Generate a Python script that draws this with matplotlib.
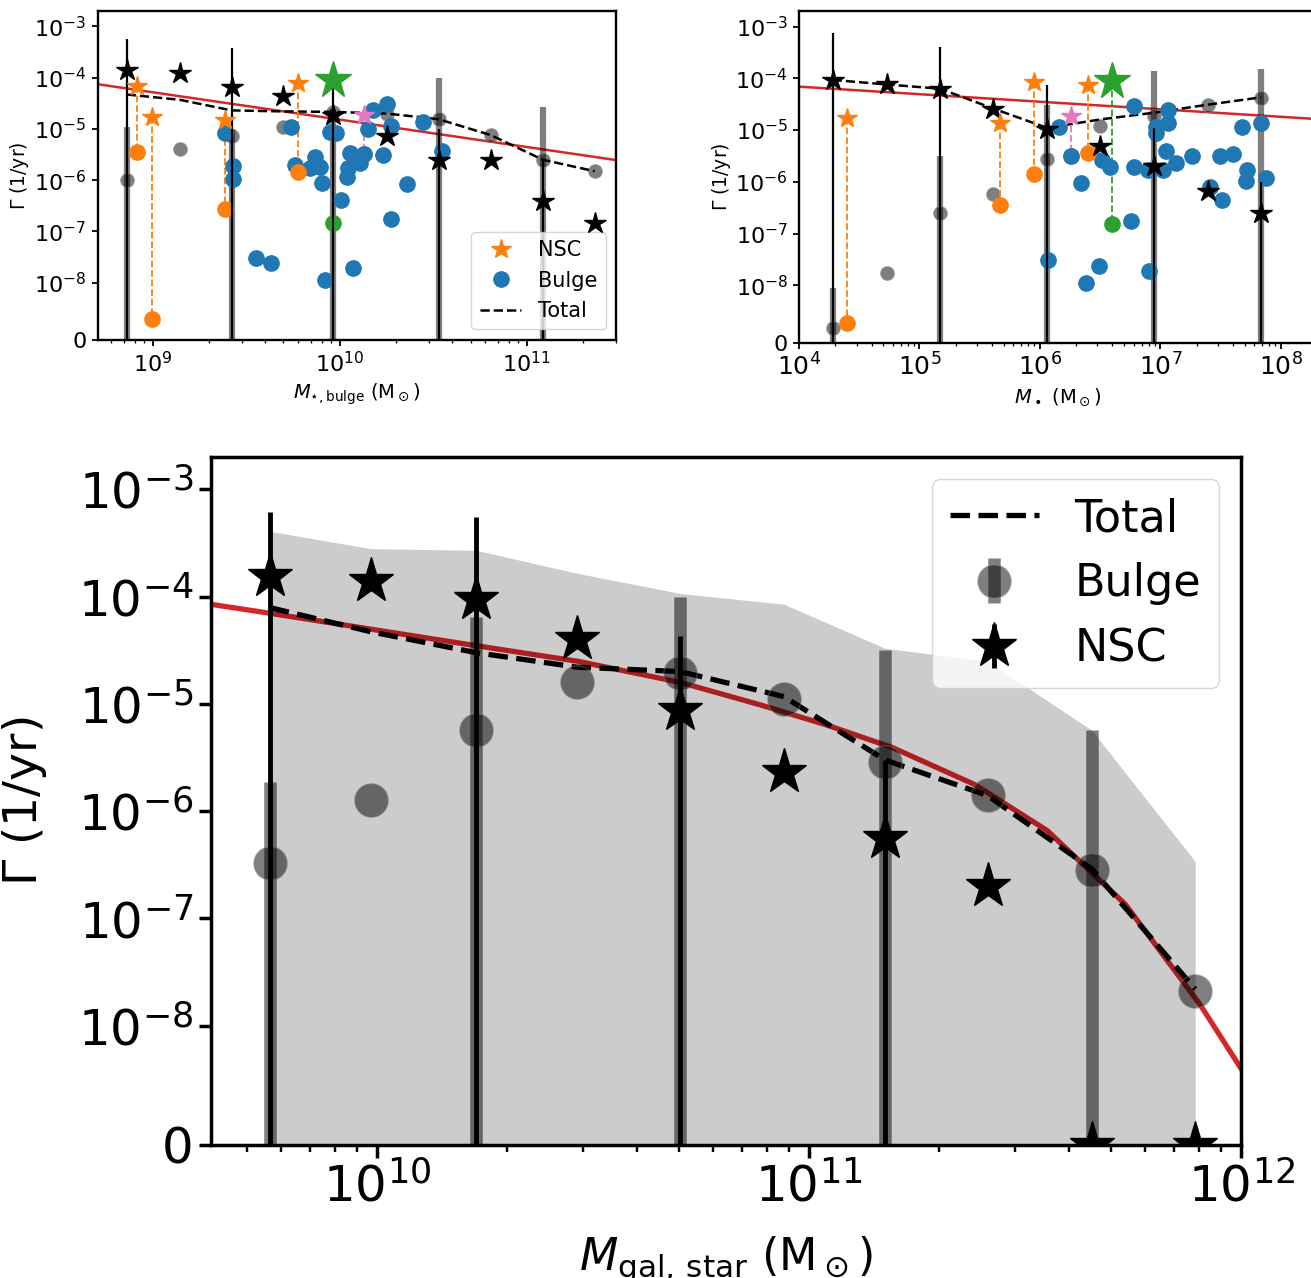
import numpy as np
import matplotlib
matplotlib.use('Agg')
import matplotlib.pyplot as plt
from matplotlib.ticker import NullLocator

plt.rcParams.update({'font.family': 'DejaVu Sans', 'mathtext.fontset': 'dejavusans'})

# ---------------- top-left panel: rate vs bulge mass ----------------
mbulge_bins = [7.26e8, 1.4e9, 2.64e9, 4.99e9, 9.2e9, 1.78e10, 3.37e10, 6.4e10, 1.22e11, 2.3e11]
tl_bulge = [1.03e-6, 4.0e-6, 7.2e-6, 1.1e-5, 2.15e-5, 2.0e-5, 1.55e-5, 7.6e-6, 2.5e-6, 1.5e-6]
tl_nsc = [1.44e-4, 1.24e-4, 6.5e-5, 4.4e-5, 1.87e-5, 7.2e-6, 2.5e-6, 2.5e-6, 4.0e-7, 1.48e-7]
tl_total = [4.7e-5, 3.7e-5, 2.3e-5, 2.2e-5, 2.15e-5, 2.0e-5, 1.55e-5, 7.6e-6, 2.5e-6, 1.5e-6]
# upper ends of the error bars, drawn on every second bin
tl_nsc_up = [5.8e-4, 3.8e-4, 1.1e-4, 1.0e-5, 2.5e-6]
tl_bulge_up = [1.1e-5, 1.0e-5, 2.5e-5, 1.0e-4, 2.7e-5]
tl_fit_x = [5.08e8, 3.0e11]
tl_fit_y = [7.46e-5, 2.47e-6]
# individual galaxies
tl_blue_x = [2.44e9, 2.68e9, 2.68e9, 5.5e9, 5.77e9, 7.4e9, 8.0e9, 7.85e9, 6.9e9, 8.9e9,
             9.6e9, 1.51e10, 1.78e10, 1.42e10, 1.87e10, 1.71e10, 1.34e10, 1.135e10, 1.285e10, 1.11e10,
             1.09e10, 2.28e10, 2.78e10, 3.5e10, 1.02e10, 1.87e10, 1.18e10, 8.3e9, 3.57e9, 4.3e9]
tl_blue_y = [8.2e-6, 1.9e-6, 1.05e-6, 1.1e-5, 2.0e-6, 2.9e-6, 8.9e-7, 1.8e-6, 1.7e-6, 8.7e-6,
             8.4e-6, 2.3e-5, 3.0e-5, 1.02e-5, 1.13e-5, 3.1e-6, 3.3e-6, 3.4e-6, 2.2e-6, 1.7e-6,
             1.17e-6, 8.3e-7, 1.34e-5, 3.7e-6, 4.2e-7, 1.74e-7, 1.9e-8, 1.13e-8, 3.1e-8, 2.45e-8]
tl_orange_x = [8.2e8, 9.9e8, 2.44e9, 5.96e9]
tl_orange_star = [6.8e-5, 1.7e-5, 1.5e-5, 7.9e-5]
tl_orange_circ = [3.5e-6, 3.6e-9, 2.8e-7, 1.42e-6]
tl_green = (9.25e9, 8.9e-5, 1.48e-7)
tl_pink = (1.34e10, 1.87e-5, 3.3e-6)

# ---------------- top-right panel: rate vs black hole mass ----------------
mbh_bins = [1.9e4, 5.35e4, 1.48e5, 4.1e5, 1.15e6, 3.15e6, 8.8e6, 2.5e7, 6.9e7]
tr_bulge = [2.5e-9, 1.73e-8, 2.45e-7, 5.8e-7, 2.75e-6, 1.19e-5, 1.85e-5, 3.1e-5, 4.2e-5]
tr_nsc = [9.3e-5, 7.6e-5, 6.3e-5, 2.6e-5, 1.05e-5, 4.9e-6, 2.0e-6, 6.5e-7, 2.45e-7]
tr_total = [9.3e-5, 7.6e-5, 6.3e-5, 2.6e-5, 1.1e-5, 1.6e-5, 2.16e-5, 3.1e-5, 4.3e-5]
tr_nsc_up = [7.4e-4, 4.1e-4, 7.3e-5, 1.1e-5, 1.0e-6]
tr_bulge_up = [9.5e-9, 3.1e-6, 3.0e-5, 1.4e-4, 1.5e-4]
tr_fit_x = [1e4, 2e8]
tr_fit_y = [6.9e-5, 1.63e-5]
tr_blue_x = [1.445e6, 1.8e6, 2.18e6, 3.25e6, 3.8e6, 6.07e6, 6.03e6, 7.92e6, 9.29e6, 9.29e6,
             1.16e7, 1.16e7, 1.11e7, 1.05e7, 1.36e7, 1.84e7, 3.12e7, 4.02e7, 4.81e7, 6.82e7,
             5.25e7, 5.19e7, 7.59e7, 2.57e7, 3.28e7, 5.69e6, 1.17e6, 3.09e6, 2.4e6, 8.04e6]
tr_blue_y = [1.17e-5, 3.1e-6, 9.4e-7, 2.6e-6, 1.9e-6, 2.9e-5, 1.9e-6, 1.7e-6, 1.17e-5, 8.8e-6,
             2.4e-5, 1.34e-5, 3.9e-6, 1.66e-6, 2.3e-6, 3.1e-6, 3.1e-6, 3.5e-6, 1.13e-5, 1.37e-5,
             1.7e-6, 1.04e-6, 1.2e-6, 8.1e-7, 4.4e-7, 1.77e-7, 3.06e-8, 2.4e-8, 1.13e-8, 1.87e-8]
tr_orange_x = [2.5e4, 4.7e5, 8.9e5, 2.5e6]
tr_orange_star = [1.72e-5, 1.38e-5, 8.6e-5, 7.3e-5]
tr_orange_circ = [3.5e-9, 3.5e-7, 1.43e-6, 3.6e-6]
tr_green = (4.0e6, 8.9e-5, 1.5e-7)
tr_pink = (1.8e6, 1.9e-5, 3.1e-6)

# ---------------- bottom panel: rate vs galaxy stellar mass ----------------
mgal_bins = [5.66e9, 9.7e9, 1.70e10, 2.91e10, 5.04e10, 8.75e10, 1.50e11, 2.59e11, 4.51e11, 7.83e11]
b_bulge = [3.3e-7, 1.28e-6, 5.7e-6, 1.6e-5, 1.96e-5, 1.1e-5, 2.9e-6, 1.4e-6, 2.85e-7, 2.1e-8]
b_nsc = [1.55e-4, 1.4e-4, 9.5e-5, 4.0e-5, 8.7e-6, 2.3e-6, 5.6e-7, 2.0e-7, 0, 0]
b_total = [7.9e-5, 4.7e-5, 3.0e-5, 2.2e-5, 2.0e-5, 1.17e-5, 3.0e-6, 1.4e-6, 2.9e-7, 2.2e-8]
b_nsc_up = [6.1e-4, 5.5e-4, 4.3e-5, 3.0e-6, 0]
b_bulge_up = [1.87e-6, 6.5e-5, 1.0e-4, 3.2e-5, 5.7e-6]
b_band_up = [4.06e-4, 2.8e-4, 2.7e-4, 1.65e-4, 1.07e-4, 8.5e-5, 3.3e-5, 2.5e-5, 5.7e-6, 3.4e-7]
b_fit_x = [4.16e9, 5.69e9, 1.68e10, 2.93e10, 5.06e10, 7.67e10, 1.09e11, 1.56e11, 2.42e11,
           3.56e11, 5.40e11, 8.04e11, 1e12]
b_fit_y = [8.45e-5, 6.97e-5, 3.51e-5, 2.49e-5, 1.58e-5, 9.86e-6, 6.43e-6, 3.92e-6, 1.77e-6,
           6.59e-7, 1.35e-7, 1.57e-8, 6.4e-9]

yticks = [0, 1e-8, 1e-7, 1e-6, 1e-5, 1e-4, 1e-3]
yticklabels = ['0'] + [r'$10^{%d}$' % k for k in range(-8, -2)]


def err_arrays(vals, ups):
    # lower error reaches zero, upper error only on even bins
    vals = np.array(vals, dtype=float)
    upper = np.zeros_like(vals)
    upper[::2] = np.array(ups) - vals[::2]
    upper = np.clip(upper, 0, None)
    return [vals, upper]


def setup(ax, tick_size, spine_w, maj_len, maj_w):
    ax.set_xscale('log')
    ax.set_yscale('symlog', linthresh=1e-8, linscale=1)
    ax.set_ylim(0, 2e-3)
    ax.set_yticks(yticks)
    ax.set_yticklabels(yticklabels)
    ax.yaxis.set_minor_locator(NullLocator())
    for s in ax.spines.values():
        s.set_linewidth(spine_w)
    ax.tick_params(which='major', labelsize=tick_size, length=maj_len, width=maj_w)
    ax.tick_params(which='minor', length=maj_len * 0.55, width=maj_w * 0.7)


def small_panel(ax, bins, bulge, nsc, total, nsc_up, bulge_up, fit_x, fit_y,
                bx, by, ox, ostar, ocirc, green, pink):
    ax.plot(fit_x, fit_y, color='C3', lw=1.8, zorder=1)
    ax.errorbar(bins, bulge, yerr=err_arrays(bulge, bulge_up), fmt='o', color='k', alpha=0.5,
                ms=10, mec='0.55', mew=0.8, elinewidth=4.5, errorevery=2, zorder=2)
    tot, = ax.plot(bins, total, 'k--', lw=1.8, zorder=3)
    for x, s, c in zip(ox, ostar, ocirc):
        ax.plot([x, x], [s, c], '--', color='C1', lw=1.3, zorder=3)
    ax.plot([green[0]] * 2, [green[1], green[2]], '--', color='C2', lw=1.3, zorder=3)
    ax.plot([pink[0]] * 2, [pink[1], pink[2]], '--', color='C6', lw=1.3, zorder=3)
    ax.plot(pink[0], pink[2], 'o', color='C6', ms=11, zorder=3)
    blue, = ax.plot(bx, by, 'o', color='C0', ms=11, lw=0, zorder=4)
    ax.plot(ox, ocirc, 'o', color='C1', ms=11, lw=0, zorder=4)
    ax.plot(green[0], green[2], 'o', color='C2', ms=11, zorder=4)
    ax.errorbar(bins, nsc, yerr=err_arrays(nsc, nsc_up), fmt='*', color='k',
                ms=16, elinewidth=1.6, errorevery=2, zorder=5)
    ostar_h, = ax.plot(ox, ostar, '*', color='C1', ms=15, lw=0, zorder=6)
    ax.plot(pink[0], pink[1], '*', color='C6', ms=15, zorder=6)
    ax.plot(green[0], green[1], '*', color='C2', ms=28, zorder=6)
    return ostar_h, blue, tot


fig = plt.figure(figsize=(13.11, 12.78), dpi=100)
ax1 = fig.add_axes([0.0745, 0.7342, 0.3955, 0.2572])
ax2 = fig.add_axes([0.6095, 0.7318, 0.3951, 0.2596])
ax3 = fig.add_axes([0.161, 0.1041, 0.7857, 0.5383])

# top-left
h = small_panel(ax1, mbulge_bins, tl_bulge, tl_nsc, tl_total, tl_nsc_up, tl_bulge_up,
                tl_fit_x, tl_fit_y, tl_blue_x, tl_blue_y, tl_orange_x, tl_orange_star,
                tl_orange_circ, tl_green, tl_pink)
setup(ax1, 16, 1.7, 4.5, 1.3)
ax1.set_xlim(5.08e8, 3.0e11)
ax1.set_xlabel(r'$M_{\star,\rm bulge}$ ($\rm M_\odot$)', fontsize=14)
ax1.set_ylabel(r'$\Gamma$ (1/yr)', fontsize=13.5)
ax1.yaxis.set_label_coords(-0.128, 0.5)
ax1.legend(h, ['NSC', 'Bulge', 'Total'], loc='lower right', fontsize=15)

# top-right
small_panel(ax2, mbh_bins, tr_bulge, tr_nsc, tr_total, tr_nsc_up, tr_bulge_up,
            tr_fit_x, tr_fit_y, tr_blue_x, tr_blue_y, tr_orange_x, tr_orange_star,
            tr_orange_circ, tr_green, tr_pink)
setup(ax2, 16, 1.7, 4.5, 1.3)
ax2.tick_params(axis='x', which='major', labelsize=18)
ax2.set_xlim(1e4, 2e8)
ax2.set_xlabel(r'$M_\bullet$ ($\rm M_\odot$)', fontsize=14)
ax2.set_ylabel(r'$\Gamma$ (1/yr)', fontsize=13.5)
ax2.yaxis.set_label_coords(-0.127, 0.5)

# bottom
ax3.plot(b_fit_x, b_fit_y, color='C3', lw=3.8, zorder=2)
tot, = ax3.plot(mgal_bins, b_total, 'k--', lw=3.8, zorder=2)
bul = ax3.errorbar(mgal_bins, b_bulge, yerr=err_arrays(b_bulge, b_bulge_up), fmt='o', color='k',
                   alpha=0.5, ms=24, mec='0.55', mew=1.0, elinewidth=9, errorevery=2, zorder=3)
nsc = ax3.errorbar(mgal_bins, b_nsc, yerr=err_arrays(b_nsc, b_nsc_up), fmt='*', color='k',
                   ms=34, elinewidth=3.5, errorevery=2, zorder=4)
ax3.fill_between(mgal_bins, 0, b_band_up, color='k', alpha=0.2, lw=0, zorder=5)
setup(ax3, 36, 2.5, 9, 2.5)
ax3.set_xlim(4.14e9, 1e12)
ax3.set_xlabel(r'$M_{\rm gal,\,star}$ ($\rm M_\odot$)', fontsize=32)
ax3.set_ylabel(r'$\Gamma$ (1/yr)', fontsize=34)
ax3.yaxis.set_label_coords(-0.157, 0.5)
ax3.xaxis.set_label_coords(0.5, -0.13)
ax3.legend([tot, bul, nsc], ['Total', 'Bulge', 'NSC'], loc='upper right', fontsize=32)

fig.savefig('out.png', dpi=100)
